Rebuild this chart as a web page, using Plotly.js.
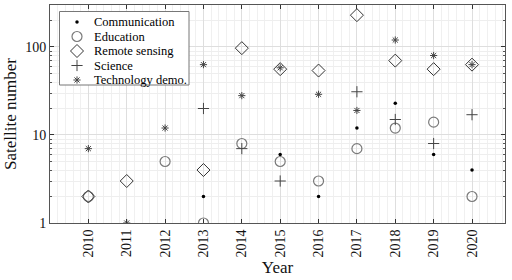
<!DOCTYPE html>
<html><head><meta charset="utf-8">
<script src="https://cdn.plot.ly/plotly-3.0.1.min.js"></script>
<style>html,body{margin:0;padding:0;background:#fff}#c{width:512px;height:280px}</style>
</head><body><div id="c"></div>
<script>
const seriesNames = ['Communication', 'Education', 'Remote sensing', 'Science', 'Technology demo.'];
const commYears = [2013, 2015, 2016, 2017, 2018, 2019, 2020];
const commVals  = [2, 6, 2, 12, 23, 6, 4];
const eduYears  = [2010, 2012, 2013, 2014, 2015, 2016, 2017, 2018, 2019, 2020];
const eduVals   = [2, 5, 1, 8, 5, 3, 7, 12, 14, 2];
const rsYears   = [2010, 2011, 2013, 2014, 2015, 2016, 2017, 2018, 2019, 2020];
const rsVals    = [2, 3, 4, 97, 56, 54, 230, 70, 56, 63];
const sciYears  = [2013, 2014, 2015, 2017, 2018, 2019, 2020];
const sciVals   = [20, 7, 3, 31, 15, 8, 17];
const techYears = [2010, 2011, 2012, 2013, 2014, 2015, 2016, 2017, 2018, 2019, 2020];
const techVals  = [7, 1, 12, 63, 28, 58, 29, 19, 120, 80, 63];
const yearTicks = [2010, 2011, 2012, 2013, 2014, 2015, 2016, 2017, 2018, 2019, 2020];
const yTicks = [1, 10, 100, 300];

const font = "'Liberation Serif', 'Times New Roman', serif";
const markerStyles = [
  {symbol: 'circle', size: 3.5, color: '#000'},
  {symbol: 'circle-open', size: 10, color: '#7a7a7a', line: {width: 1.2, color: '#7a7a7a'}},
  {symbol: 'diamond-open', size: 10, color: '#333', line: {width: 1, color: '#333'}},
  {symbol: 'cross-thin-open', size: 8, color: '#444', line: {width: 1, color: '#444'}},
  {symbol: 'asterisk-open', size: 6, color: '#444', line: {width: 1, color: '#444'}}
];
const xs = [commYears, eduYears, rsYears, sciYears, techYears];
const ys = [commVals, eduVals, rsVals, sciVals, techVals];
const traces = seriesNames.map((n, i) => ({
  x: xs[i], y: ys[i], name: n, mode: 'markers', type: 'scatter', showlegend: false,
  marker: markerStyles[i]
}));

// Custom compact legend drawn on a pixel-like overlay (x2: 0..455 px, y2: 0..218 px from top)
const box = {l: 9.5, r: 139, t: 6.5, b: 80};
traces.push({x: [box.l, box.r, box.r, box.l, box.l], y: [box.t, box.t, box.b, box.b, box.t],
  xaxis: 'x2', yaxis: 'y2', mode: 'lines', fill: 'toself', fillcolor: '#fff',
  line: {color: '#777', width: 1}, showlegend: false, hoverinfo: 'skip'});
const legX = 27, legY0 = 17, legStep = 14.5, legTextX = 44;
seriesNames.forEach((n, i) => {
  traces.push({x: [legX], y: [legY0 + i * legStep], xaxis: 'x2', yaxis: 'y2', mode: 'markers',
    type: 'scatter', showlegend: false, marker: markerStyles[i], hoverinfo: 'skip'});
});
const annotations = seriesNames.map((n, i) => ({
  xref: 'x2', yref: 'y2', x: legTextX, y: legY0 + i * legStep, text: n, showarrow: false,
  xanchor: 'left', yanchor: 'middle', xshift: -2, font: {family: font, size: 12.5, color: '#000'}
}));

const layout = {
  width: 512, height: 280,
  margin: {l: 50, r: 7, t: 5, b: 57},
  paper_bgcolor: '#fff', plot_bgcolor: '#fff',
  font: {family: font, size: 14, color: '#111'},
  showlegend: false,
  annotations: annotations,
  xaxis: {
    range: [2009, 2020.86], tickmode: 'array', tickvals: yearTicks, ticktext: yearTicks.map(String),
    tickangle: -90, ticks: 'inside', ticklen: 4, tickcolor: '#333', mirror: 'ticks',
    showline: true, linecolor: '#555', linewidth: 1,
    showgrid: true, gridcolor: '#dedede', gridwidth: 1, zeroline: false,
    minor: {dtick: 0.2, showgrid: true, gridcolor: '#f0f0f0', ticks: ''},
    tickfont: {family: font, size: 14, color: '#111'},
    title: {text: 'Year', font: {family: font, size: 17, color: '#111'}, standoff: 2}
  },
  yaxis: {
    type: 'log', range: [0, Math.log10(300)], tickmode: 'array', tickvals: yTicks, ticktext: yTicks.map(String),
    ticks: 'inside', ticklen: 4, tickcolor: '#333', mirror: 'ticks',
    showline: true, linecolor: '#555', linewidth: 1,
    showgrid: true, gridcolor: '#dedede', zeroline: false,
    minor: {tickmode: 'array', tickvals: [2,3,4,5,6,7,8,9,20,30,40,50,60,70,80,90,200], showgrid: true, gridcolor: '#eeeeee', ticks: 'inside', ticklen: 2, tickcolor: '#555'},
    tickfont: {family: font, size: 14, color: '#111'},
    title: {text: 'Satellite number', font: {family: font, size: 17, color: '#111'}, standoff: 4}
  },
  xaxis2: {overlaying: 'x', anchor: 'y2', range: [0, 455], visible: false, showgrid: false, zeroline: false},
  yaxis2: {overlaying: 'y', anchor: 'x2', range: [218, 0], visible: false, showgrid: false, zeroline: false}
};
Plotly.newPlot('c', traces, layout, {staticPlot: true, displayModeBar: false});
</script></body></html>
